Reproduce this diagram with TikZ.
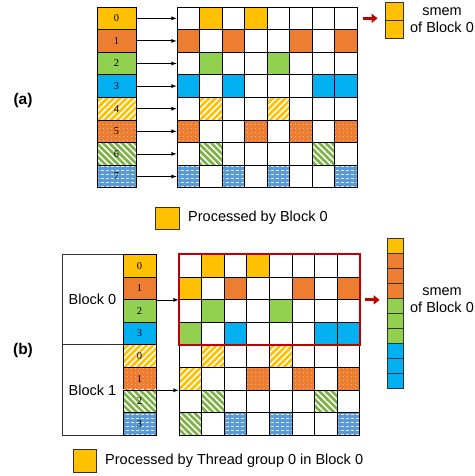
\documentclass[tikz,border=0pt]{standalone}
\usepackage{fontspec}
\setmainfont{Liberation Sans}
\newfontfamily\numfont{Liberation Serif}
\usepackage{tikz}
\usetikzlibrary{arrows,arrows.meta,positioning,calc,patterns.meta}
\tikzset{>=latex}

\definecolor{myyellow}{HTML}{FFC000}
\definecolor{myorange}{HTML}{ED7D31}
\definecolor{mygreen}{HTML}{92D050}
\definecolor{myblue}{HTML}{00B0F0}
\definecolor{mydblue}{HTML}{5B9BD5}
\definecolor{myred}{HTML}{C00000}

\pgfdeclarepattern{
  name=hdashes,
  type=uncolored,
  bottom left={\pgfpoint{-.1pt}{-.1pt}},
  top right={\pgfpoint{5.1pt}{4.1pt}},
  tile size={\pgfpoint{5pt}{4pt}},
  code={
    \pgfsetlinewidth{0.8pt}
    \pgfpathmoveto{\pgfpoint{0.6pt}{2pt}}
    \pgfpathlineto{\pgfpoint{3.6pt}{2pt}}
    \pgfusepath{stroke}
  }
}

\tikzset{
  cell/.style={draw=black,line width=0.8pt,minimum width=22.6pt,minimum height=22.6pt,inner sep=0pt},
  cw/.style={fill=white},
  cy/.style={fill=myyellow},
  co/.style={fill=myorange},
  cg/.style={fill=mygreen},
  cb/.style={fill=myblue},
  cyh/.style={preaction={fill=myyellow},pattern={Lines[angle=45,distance=4.5pt,line width=1.6pt]},pattern color=white},
  cgh/.style={preaction={fill=mygreen!85!black},pattern={Lines[angle=-45,distance=4.5pt,line width=1.6pt]},pattern color=white},
  cod/.style={preaction={fill=myorange},pattern={Dots[radius=0.5pt,distance=4pt]},pattern color=white!85!myorange},
  cbd/.style={preaction={fill=mydblue},pattern=hdashes,pattern color=white!80!mydblue},
  numcell/.style={font=\numfont\fontsize{10.5}{12}\selectfont},
  redarrow/.style={myred,line width=3pt,-{Triangle[length=6pt,width=9pt]},shorten <=5pt,shorten >=7pt},
}

\begin{document}
\begin{tikzpicture}[x=1pt,y=-1pt,font=\fontsize{14.5}{16.5}\selectfont]
\useasboundingbox (0,0) rectangle (474,476);

% (a)
\node [font=\bfseries\fontsize{15.5}{18}\selectfont] (laba) at (23,100) {(a)};

\foreach \i/\s in {0/cy,1/co,2/cg,3/cb,4/cyh,5/cod,6/cgh,7/cbd}
  \node [cell,numcell,\s,minimum width=39pt] (a\i) at (116.5,{18.3+22.6*\i}) {\i};

\foreach \r/\row in {0/{cw,cy,cw,cy,cw,cw,cw,cw},
                     1/{co,cw,co,cw,cw,co,cw,co},
                     2/{cw,cg,cw,cw,cg,cw,cw,cw},
                     3/{cb,cw,cb,cw,cw,cw,cb,cb},
                     4/{cw,cyh,cw,cw,cyh,cw,cw,cw},
                     5/{cod,cw,cw,cod,cw,cod,cw,cod},
                     6/{cw,cgh,cw,cw,cw,cw,cgh,cw},
                     7/{cbd,cw,cbd,cw,cbd,cw,cw,cbd}}
  \foreach \s [count=\c from 0] in \row
    \node [cell,\s,minimum width=22.55pt] (ga\r\c) at ({188.3+22.55*\c},{18.3+22.6*\r}) {};

\begin{scope}[line width=0.8pt]
\foreach \i in {0,...,7}
  \draw[->,color=black] (a\i.east) to (ga\i0.west);
\end{scope}

\node [cell,cy,draw=black!80,minimum width=18pt,minimum height=18pt] (sa0) at (394,11) {};
\node [cell,cy,draw=black!80,minimum width=18pt,minimum height=18pt] (sa1) at (394,29) {};
\draw[redarrow] (ga07.east) to (ga07.east -| sa0.west);
\node [align=center] (smema) at (442,20) {smem\\of Block 0};

\node [draw=black!80,line width=0.8pt,fill=myyellow,minimum width=24pt,minimum height=22pt] (lega) at (167,218) {};
\node [anchor=west,inner sep=0pt] (legta) at (188,218) {Processed by Block 0};

% (b)
\node [font=\bfseries\fontsize{15.5}{18}\selectfont] (labb) at (23,350) {(b)};

\node [draw=black!80,line width=0.8pt,minimum width=61pt,minimum height=90.4pt] (blk0) at (92.5,299.5) {Block 0};
\node [draw=black!80,line width=0.8pt,minimum width=61pt,minimum height=90.4pt] (blk1) at (92.5,389.9) {Block 1};

\foreach \i/\n/\s in {0/0/cy,1/1/co,2/2/cg,3/3/cb,4/0/cyh,5/1/cod,6/2/cgh,7/3/cbd}
  \node [cell,numcell,\s,minimum width=33pt] (b\i) at (139.5,{265.6+22.6*\i}) {\n};

\foreach \r/\row in {0/{cw,cy,cw,cy,cw,cw,cw,cw},
                     1/{cy,cw,co,cw,cw,co,cw,co},
                     2/{cw,cg,cw,cw,cg,cw,cw,cw},
                     3/{cg,cw,cb,cw,cw,cw,cb,cb},
                     4/{cw,cyh,cw,cw,cyh,cw,cw,cw},
                     5/{cyh,cw,cw,cod,cw,cod,cw,cod},
                     6/{cw,cgh,cw,cw,cw,cw,cgh,cw},
                     7/{cgh,cw,cbd,cw,cbd,cw,cw,cbd}}
  \foreach \s [count=\c from 0] in \row
    \node [cell,\s] (gb\r\c) at ({190.3+22.6*\c},{265.6+22.6*\r}) {};

\begin{scope}[line width=0.8pt]
\draw[->,color=black] (b1.south east) to (gb10.south west);
\draw[->,color=black] (b5.south east) to (gb50.south west);
\end{scope}

\draw[myred,line width=2.2pt] (gb00.north west) rectangle (gb37.south east);

\foreach \i/\s in {0/cy,1/co,2/co,3/co,4/cg,5/cg,6/cg,7/cb,8/cb,9/cb}
  \node [cell,\s,draw=black!80,minimum width=16pt,minimum height=15pt] (sb\i) at (395,{245.5+15*\i}) {};
\draw[redarrow] (gb17.south east) to (gb17.south east -| sb0.west);
\node [align=center] (smemb) at (442,300) {smem\\of Block 0};

\node [draw=black!80,line width=0.8pt,fill=myyellow,minimum width=23pt,minimum height=23pt] (legb) at (84.5,460.5) {};
\node [anchor=west,inner sep=0pt] (legtb) at (105,460.5) {Processed by Thread group 0 in Block 0};

\end{tikzpicture}
\end{document}
